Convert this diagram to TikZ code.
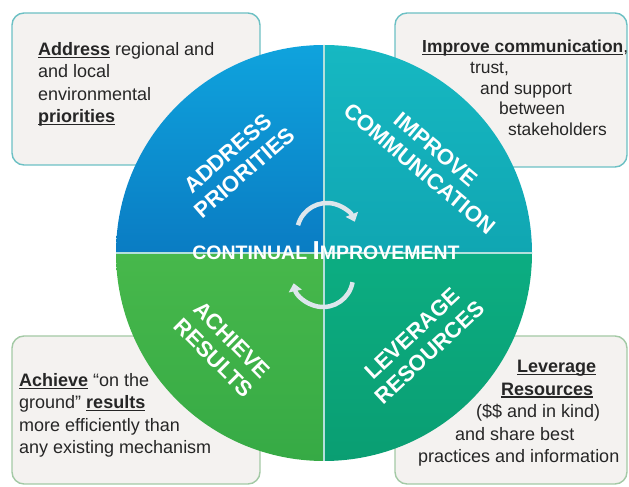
\documentclass[tikz,border=0pt]{standalone}
\usepackage{fontspec}
\setmainfont{Liberation Sans}
\usetikzlibrary{arrows.meta}

\definecolor{boxfill}{HTML}{F4F2F0}
\definecolor{tealedge}{HTML}{6CC0C4}
\definecolor{greenedge}{HTML}{A3C9A5}
\definecolor{cycleline}{HTML}{DDE6EC}
\definecolor{bluetop}{HTML}{0FA3DD}
\definecolor{bluebot}{HTML}{0A7CC3}
\definecolor{tealtop}{HTML}{16B8C2}
\definecolor{tealbot}{HTML}{10A6B2}
\definecolor{greentop}{HTML}{47B84B}
\definecolor{greenbot}{HTML}{36AA45}
\definecolor{jadetop}{HTML}{0CAD82}
\definecolor{jadebot}{HTML}{0A9E72}
\definecolor{divider}{HTML}{B4E0DC}

% bold, underlined key word
\newcommand{\keyword}[1]{\setbox0\hbox{\bfseries #1}\rlap{\rule[-2.6pt]{\wd0}{1.3pt}}\box0\relax}

\begin{document}
\begin{tikzpicture}[
        x=1pt, y=1pt,
        infobox/.style={draw=tealedge, line width=1.4pt, fill=boxfill, rounded corners=12pt},
        infotext/.style={anchor=north west, inner sep=0pt, align=left, text=black!85, font=\fontsize{18}{22.5}\selectfont},
        quadlabel/.style={text=white, align=center, inner sep=0pt, font=\fontsize{22}{25.5}\selectfont\bfseries},
        cyclearrow/.style={draw=cycleline, line width=4.5pt, -{Triangle[length=8pt,width=13pt]}}
    ]
        \useasboundingbox (0,0) rectangle (629,487);

        % Text boxes behind the wheel
        \draw[infobox] (12,474) rectangle (260,322);
        \draw[infobox] (395,474) rectangle (627,320);
        \draw[infobox, draw=greenedge] (12,151) rectangle (260,3);
        \draw[infobox, draw=greenedge] (395,151) rectangle (627,3);

        \node[infotext] (addresstext) at (38,445)
            {\keyword{Address} regional and\\and local\\environmental\\\keyword{priorities}};
        \node[infotext, font=\fontsize{17.4}{20.7}\selectfont] (improvetext) at (422,447)
            {\keyword{Improve communication},\\\hspace*{48pt}trust,\\\hspace*{58pt}and support\\\hspace*{77pt}between\\\hspace*{86pt}stakeholders};
        \node[infotext] (achievetext) at (19,114)
            {\keyword{Achieve} “on the\\ground” \keyword{results}\\more efficiently than\\any existing mechanism};
        \node[infotext] (leveragetext) at (418,127)
            {\hspace*{99pt}\keyword{Leverage}\\\hspace*{83pt}\keyword{Resources}\\\hspace*{58pt}(\$\$ and in kind)\\\hspace*{37pt}and share best\\practices and information};

        % The wheel
        \coordinate (hub) at (324,234);
        \shade[top color=bluetop, bottom color=bluebot] (hub) -- ++(180:208) arc[start angle=180, end angle=90, radius=208] -- cycle;
        \shade[top color=tealtop, bottom color=tealbot] (hub) -- ++(90:208) arc[start angle=90, end angle=0, radius=208] -- cycle;
        \shade[top color=greentop, bottom color=greenbot] (hub) -- ++(180:208) arc[start angle=180, end angle=270, radius=208] -- cycle;
        \shade[top color=jadetop, bottom color=jadebot] (hub) -- ++(0:208) arc[start angle=0, end angle=-90, radius=208] -- cycle;
        \draw[divider, line width=1.8pt] (hub) ++(-208,0) -- ++(416,0);
        \draw[divider, line width=1.8pt] (hub) ++(0,208) -- ++(0,-416);

        % Quadrant labels
        \node[quadlabel, rotate=41] (address) at (236,324) {ADDRESS\\PRIORITIES};
        \node[quadlabel, rotate=-40] (improve) at (428,328) {IMPROVE\\COMMUNICATION};
        \node[quadlabel, rotate=-45] (achieve) at (223,138) {ACHIEVE\\RESULTS};
        \node[quadlabel, rotate=43] (leverage) at (421,144) {LEVERAGE\\RESOURCES};

        % Continual improvement
        \coordinate (toparc) at (327,254);
        \coordinate (lowarc) at (323,210);
        \draw[cyclearrow] (toparc) ++(165:30) arc[start angle=165, end angle=22, radius=30];
        \draw[cyclearrow] (lowarc) ++(-10:30) arc[start angle=-10, end angle=-168, radius=30];
        \node[anchor=base, text=white, inner sep=0pt, font=\fontsize{19.5}{19.5}\selectfont\bfseries] (continual) at (326,227)
            {CONTINUAL {\fontsize{26}{26}\selectfont I}MPROVEMENT};

    \end{tikzpicture}
\end{document}
